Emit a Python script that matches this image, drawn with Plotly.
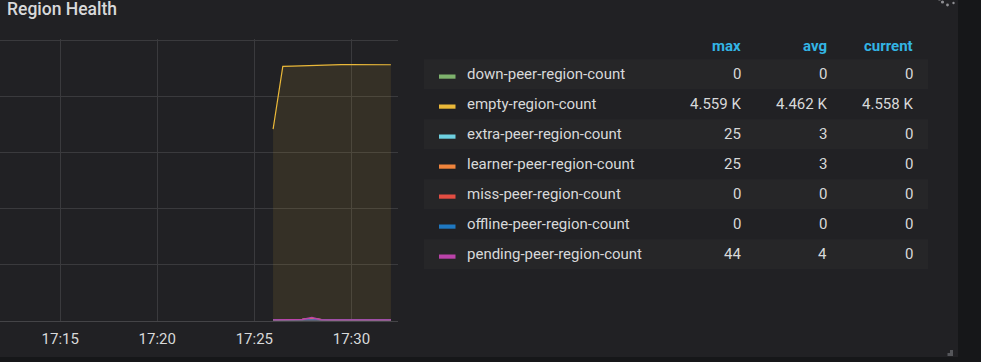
import plotly.graph_objects as go

W, H = 981, 362

# ---------------- data ----------------
times = ["2020-01-01 17:25:58", "2020-01-01 17:26:28", "2020-01-01 17:26:58",
         "2020-01-01 17:27:28", "2020-01-01 17:27:58", "2020-01-01 17:28:28",
         "2020-01-01 17:28:58", "2020-01-01 17:29:28", "2020-01-01 17:29:58",
         "2020-01-01 17:30:28", "2020-01-01 17:30:58", "2020-01-01 17:31:28",
         "2020-01-01 17:32:02"]

series_names = ["down-peer-region-count", "empty-region-count", "extra-peer-region-count",
                "learner-peer-region-count", "miss-peer-region-count",
                "offline-peer-region-count", "pending-peer-region-count"]
series_colors = ["#7EB26D", "#EAB839", "#6ED0E0", "#EF843C", "#E24D42", "#1F78C1", "#BA43A9"]

down_peer = [0, 0, 0, 0, 0, 0, 0, 0, 0, 0, 0, 0, 0]
empty_region = [3410, 4528, 4533, 4538, 4545, 4559, 4559, 4559, 4559, 4559, 4559, 4559, 4558]
extra_peer = [0, 0, 0, 10, 25, 4, 0, 0, 0, 0, 0, 0, 0]
learner_peer = [0, 0, 0, 10, 25, 4, 0, 0, 0, 0, 0, 0, 0]
miss_peer = [0, 0, 0, 0, 0, 0, 0, 0, 0, 0, 0, 0, 0]
offline_peer = [0, 0, 0, 0, 0, 0, 0, 0, 0, 0, 0, 0, 0]
pending_peer = [0, 0, 0, 8, 44, 0, 0, 0, 0, 0, 0, 0, 0]

col_headers = ["max", "avg", "current"]
col_max = ["0", "4.559 K", "25", "25", "0", "0", "44"]
col_avg = ["0", "4.462 K", "3", "3", "0", "0", "4"]
col_current = ["0", "4.558 K", "0", "0", "0", "0", "0"]

x_range = ["2020-01-01 17:11:54", "2020-01-01 17:32:24"]
x_tickvals = ["2020-01-01 17:15:00", "2020-01-01 17:20:00",
              "2020-01-01 17:25:00", "2020-01-01 17:30:00"]
x_ticktext = ["17:15", "17:20", "17:25", "17:30"]

all_series = [down_peer, empty_region, extra_peer, learner_peer,
              miss_peer, offline_peer, pending_peer]

# ---------------- styling ----------------
PANEL_BG = "#212124"
PAGE_BG = "#161719"
GRID = "#3a3a3d"
TEXT = "#d8d9da"
HEAD = "#33b5e5"
FONT = "Roboto"


def hex_rgba(h, a):
    h = h.lstrip("#")
    r, g, b = int(h[0:2], 16), int(h[2:4], 16), int(h[4:6], 16)
    return f"rgba({r},{g},{b},{a})"


def px(x):
    return x / W


def py(y):
    return 1 - y / H


fig = go.Figure()
for name, vals, col in zip(series_names, all_series, series_colors):
    fig.add_trace(go.Scatter(
        x=times, y=vals, name=name, mode="lines",
        line=dict(color=col, width=1.2 if name == "empty-region-count" else 1.6),
        fill="tozeroy", fillcolor=hex_rgba(col, 0.1),
        showlegend=False, hoverinfo="skip"))

shapes = []
# page background strips (right & bottom)
shapes.append(dict(type="rect", xref="paper", yref="paper", x0=px(958), x1=1.0, y0=0, y1=1,
                   fillcolor=PAGE_BG, line_width=0, layer="below"))
shapes.append(dict(type="rect", xref="paper", yref="paper", x0=0, x1=px(958), y0=0, y1=py(357),
                   fillcolor=PAGE_BG, line_width=0, layer="below"))
# panel resize corner
shapes.append(dict(type="path", xref="paper", yref="paper",
                   path=f"M {px(953)} {py(350)} L {px(953)} {py(356)} L {px(947.5)} {py(356)} "
                        f"L {px(947.5)} {py(353)} L {px(950)} {py(353)} L {px(950)} {py(350)} Z",
                   fillcolor="#55565a", line_width=0))
# loading spinner dots
for sx, sy, r in [(942.5, 2.0, 1.6), (947.5, 5.0, 1.4), (953.5, 3.0, 1.2), (939.5, -1.0, 1.6)]:
    shapes.append(dict(type="circle", xref="paper", yref="paper",
                       x0=px(sx - r), x1=px(sx + r), y0=py(sy + r), y1=py(sy - r),
                       fillcolor="#8e8e92", line_width=0))

# legend table
row_top0 = 59.3
row_h = 30.0
table_x0, table_x1 = 424.0, 928.0
swatch_x0, swatch_x1 = 439.0, 455.5
label_x = 464.8
col_right = [742.6, 828.5, 914.8]

annotations = []
annotations.append(dict(text="Region Health", xref="paper", yref="paper",
                        x=px(5), y=py(9), xanchor="left", yanchor="middle", showarrow=False,
                        font=dict(family=FONT, size=17.5, color=TEXT, weight=500)))

for cx, htxt in zip(col_right, col_headers):
    annotations.append(dict(text=htxt, xref="paper", yref="paper",
                            x=px(cx), y=py(46.5), xanchor="right", yanchor="middle",
                            showarrow=False,
                            font=dict(family=FONT, size=15, color=HEAD, weight=700)))

for i, (name, col) in enumerate(zip(series_names, series_colors)):
    top = row_top0 + i * row_h
    cy = top + row_h / 2
    if i % 2 == 0:
        shapes.append(dict(type="rect", xref="paper", yref="paper",
                           x0=px(table_x0), x1=px(table_x1), y0=py(top + row_h), y1=py(top),
                           fillcolor="#262628", line_width=0, layer="below"))
    shapes.append(dict(type="rect", xref="paper", yref="paper",
                       x0=px(swatch_x0), x1=px(swatch_x1), y0=py(cy + 4.4), y1=py(cy + 0.2),
                       fillcolor=col, line_width=0))
    annotations.append(dict(text=name, xref="paper", yref="paper",
                            x=px(label_x), y=py(cy), xanchor="left", yanchor="middle",
                            showarrow=False, font=dict(family=FONT, size=15, color=TEXT)))
    for cx, vals in zip(col_right, [col_max, col_avg, col_current]):
        annotations.append(dict(text=vals[i], xref="paper", yref="paper",
                                x=px(cx), y=py(cy), xanchor="right", yanchor="middle",
                                showarrow=False, font=dict(family=FONT, size=15, color=TEXT)))

fig.update_layout(
    width=W, height=H,
    margin=dict(l=0, r=0, t=0, b=0),
    paper_bgcolor=PANEL_BG, plot_bgcolor="rgba(0,0,0,0)",
    font=dict(family=FONT, color=TEXT),
    shapes=shapes, annotations=annotations,
    xaxis=dict(domain=[0, px(398)], type="date", range=x_range,
               tickvals=x_tickvals, ticktext=x_ticktext,
               showgrid=True, gridcolor=GRID, gridwidth=1,
               showline=True, linecolor="#444447", linewidth=1,
               zeroline=False, ticks="", ticklen=0, ticklabelstandoff=4,
               tickfont=dict(family=FONT, size=15, color=TEXT)),
    yaxis=dict(domain=[py(320.5), py(39)], range=[-9, 5018], dtick=1000,
               showticklabels=False, showgrid=True, gridcolor=GRID, gridwidth=1,
               zeroline=False, showline=False, ticks=""),
)

fig.write_html("out.html", config={"displayModeBar": False},
               post_script="document.body.style.margin='0';document.body.style.padding='0';"
                           "document.body.style.overflow='hidden';")
